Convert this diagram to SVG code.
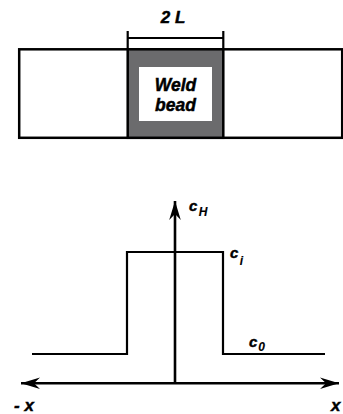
<svg xmlns="http://www.w3.org/2000/svg" width="343" height="414" viewBox="0 0 343 414">
<defs>
<style>
.ln{stroke:#000;stroke-width:2.2;fill:none;stroke-linecap:butt}
.ax{stroke:#000;stroke-width:2.6;fill:none}
.t{font-family:"Liberation Sans",Arial,sans-serif;font-weight:bold;font-style:italic;fill:#000;stroke:#000;stroke-width:0.45}
.sub{font-size:12px;stroke-width:0.15}
</style>
<marker id="ah" markerUnits="userSpaceOnUse" markerWidth="22" markerHeight="14" viewBox="-19 -7 22 14" refX="0" refY="0" orient="auto">
<path d="M0,0 L-19,-5.8 L-13,0 L-19,5.8 Z" fill="#000"/>
</marker>
</defs>
<g id="plate">
<rect x="19.2" y="49.3" width="323" height="88.5" fill="#fff" stroke="#000" stroke-width="2.5"/>
</g>
<g id="weld-bead">
<rect x="127.7" y="49.3" width="95.6" height="88.5" fill="#6b6b6d" stroke="#000" stroke-width="2.5"/>
<rect x="139" y="67" width="73" height="54" fill="#fff"/>
<text class="t" x="175.5" y="90.5" font-size="17.5" text-anchor="middle">Weld</text>
<text class="t" x="175.5" y="111" font-size="17.5" text-anchor="middle">bead</text>
</g>
<g id="dimension">
<path class="ln" d="M127.7,31 V49 M223.3,31 V49 M127.7,38 H223.3"/>
<text class="t" x="173" y="23" font-size="17" text-anchor="middle">2 L</text>
</g>
<g id="connectors">
<path class="ax" d="M175,383.3 H339" marker-end="url(#ah)"/>
<path class="ax" d="M175,383.3 H21" marker-end="url(#ah)"/>
<path class="ax" d="M175,383.3 V201" marker-end="url(#ah)"/>
</g>
<g id="profile">
<path class="ln" d="M32,354 H127 V252 H223 V354 H325"/>
</g>
<g id="labels">
<text class="t" x="189" y="211" font-size="15">c<tspan class="sub" dx="1.5" dy="5">H</tspan></text>
<text class="t" x="230" y="258" font-size="15">c<tspan class="sub" dx="1.5" dy="7">i</tspan></text>
<text class="t" x="249" y="347" font-size="15">c<tspan class="sub" dx="1" dy="4">0</tspan></text>
<text class="t" x="14" y="411" font-size="17">- x</text>
<text class="t" x="331" y="411" font-size="17">x</text>
</g>
</svg>
